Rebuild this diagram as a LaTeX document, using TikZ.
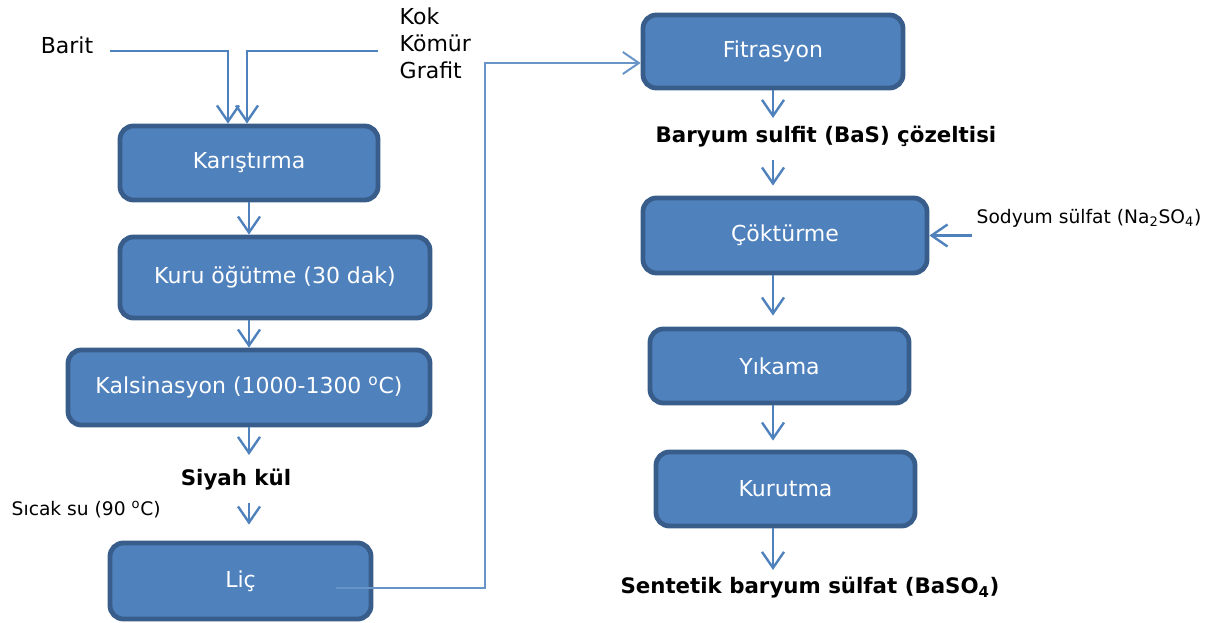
\documentclass[tikz,border=0pt]{standalone}
\usepackage{fontspec}
\setmainfont{DejaVu Sans}
\usetikzlibrary{positioning,calc,arrows.meta}
\definecolor{boxfill}{HTML}{4F81BD}
\definecolor{boxline}{HTML}{385D8A}

\begin{document}
\begin{tikzpicture}[x=0.75pt,y=-0.75pt,
  >={Straight Barb[length=12pt,width=16.5pt]},
  flow/.style={->,draw=boxfill,line width=1.8pt},
  process/.style={draw=boxline,fill=boxfill,line width=3.6pt,rounded corners=10pt,
    text=white,font=\fontsize{16.5}{20}\selectfont},
  product/.style={font=\fontsize{16}{19}\selectfont\bfseries},
  feed/.style={font=\fontsize{16.5}{20.25}\selectfont},
  small/.style={font=\fontsize{14}{17}\selectfont}]
\useasboundingbox (0,0) rectangle (1211,623);

  % left column
  \node[process,minimum width=193.5pt,minimum height=55.5pt] (kar) at (249,163) {Karıştırma};
  \node[process,minimum width=232.5pt,minimum height=60.75pt] (kuru) at (275,277.5) {Kuru öğütme (30 dak)};
  \node[process,minimum width=271.5pt,minimum height=56.25pt] (kals) at (249,387.5) {Kalsinasyon (1000-1300 \textsuperscript{o}C)};
  \node[product] (siyah) at (236,480) {Siyah kül};
  \node[process,minimum width=195.75pt,minimum height=57pt] (lic) at (240.5,581) {Liç};

  % right column
  \node[process,minimum width=195pt,minimum height=54.75pt] (fit) at (773,51.5) {Fitrasyon};
  \node[product] (bas) at (826,137) {Baryum sulfit (BaS) çözeltisi};
  \node[process,minimum width=213pt,minimum height=56.25pt] (cok) at (785,235.5) {Çöktürme};
  \node[process,minimum width=194.25pt,minimum height=55.5pt] (yik) at (779.5,366) {Yıkama};
  \node[process,minimum width=194.25pt,minimum height=55.5pt] (kur) at (785.5,489) {Kurutma};
  \node[product] (sent) at (810,588) {Sentetik baryum sülfat (BaSO\textsubscript{4})};

  % feeds
  \node[feed] (barit) at (67,45) {Barit};
  \node[feed,align=left,anchor=west] (kok) at (395,43) {Kok\\Kömür\\Grafit};
  \node[small,anchor=west] (sicak) at (7,510) {Sıcak su (90 \textsuperscript{o}C)};
  \node[small,anchor=west] (sod) at (972,218) {Sodyum sülfat (Na\textsubscript{2}SO\textsubscript{4})};

  \coordinate (bstart) at (110,51);
  \coordinate (kstart) at (378,51);
  \coordinate (licout) at ($(lic.center)+(95,7)$);
  \coordinate (turn) at (485,63);

  % arrows, left
  \draw[flow] (bstart) -| ($(kar.north)+(-21,0)$);
  \draw[flow] (kstart) -| ($(kar.north)+(-2,0)$);
  \draw[flow] (kar.south) -- (kar.south |- kuru.north);
  \draw[flow] (kals.north |- kuru.south) -- (kals.north);
  \draw[flow,shorten >=18.75pt] (kals.south) -- (kals.south |- siyah);
  \draw[flow,shorten <=17.25pt,shorten >=12pt] (kals.south |- siyah) -- (kals.south |- lic.north);
  \draw[draw=boxfill!85!white,->,line width=1.5pt] (licout) -| (turn) -- (turn -| fit.west);

  % arrows, right
  \draw[flow,shorten >=14.25pt] (fit.south) -- (fit |- bas);
  \draw[flow,shorten <=17.25pt,shorten >=7.5pt] (fit |- bas) -- (fit |- cok.north);
  \draw[flow,shorten >=8.25pt] (cok.south -| fit) -- (yik.north -| fit);
  \draw[flow,shorten >=6.75pt] (yik.south -| fit) -- (kur.north -| fit);
  \draw[flow,shorten >=13.5pt] (kur.south -| fit) -- (fit |- sent);
  \draw[flow] (sod.west |- cok.east) -- (cok.east);
\end{tikzpicture}
\end{document}
